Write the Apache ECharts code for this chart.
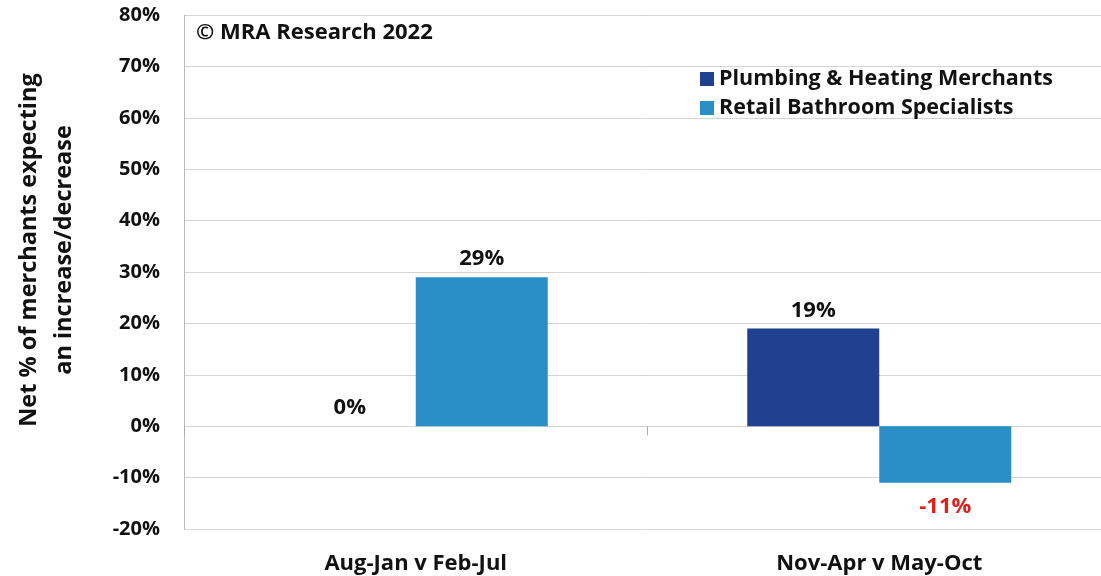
<!DOCTYPE html>
<html>
<head>
<meta charset="utf-8">
<script src="https://cdn.jsdelivr.net/npm/echarts@6/dist/echarts.min.js"></script>
<style>
  html, body { margin: 0; padding: 0; background: #fff; overflow: hidden; }
  /* plot area runs slightly past the right edge of the window */
  #chart { width: 1111px; height: 576px; }
</style>
</head>
<body>
<div id="chart"></div>
<script>
// Survey periods compared
const categories = ['Aug-Jan v Feb-Jul', 'Nov-Apr v May-Oct'];
// Net % of merchants expecting an increase/decrease
const plumbingHeating = [0, 19];
const retailBathroom = [29, -11];
const seriesNames = ['Plumbing & Heating Merchants', 'Retail Bathroom Specialists'];
const yMin = -20, yMax = 80, yStep = 10;

const FONT = '"Open Sans", sans-serif';
const DARK = '#1F4190';
const LIGHT = '#2A8FC6';

function labelled(values) {
  return values.map(v => v < 0
    ? { value: v, label: { position: 'bottom', color: '#E0201B', distance: 13 } }
    : { value: v });
}

const chart = echarts.init(document.getElementById('chart'), null, { renderer: 'canvas' });
chart.setOption({
  animation: false,
  backgroundColor: '#ffffff',
  textStyle: { fontFamily: FONT },
  grid: { left: 184, top: 15, right: 0, bottom: 47 },
  legend: {
    orient: 'vertical',
    left: 695,
    top: 63,
    itemWidth: 14,
    itemHeight: 14,
    itemGap: 7,
    icon: 'rect',
    data: seriesNames,
    textStyle: { fontFamily: FONT, fontWeight: 'bold', fontSize: 21.5, color: '#111' }
  },
  graphic: [
    {
      type: 'text', left: 196, top: 22,
      style: { text: '© MRA Research 2022', font: 'bold 22px ' + FONT, fill: '#111' }
    },
    {
      type: 'text', x: 47, y: 250, rotation: Math.PI / 2,
      style: {
        text: 'Net % of merchants expecting\nan increase/decrease',
        font: 'bold 23.5px ' + FONT, fill: '#111',
        align: 'center', verticalAlign: 'middle', lineHeight: 35
      }
    }
  ],
  xAxis: [
    {
      type: 'category',
      data: categories,
      position: 'bottom',
      axisLine: { show: false, onZero: false },
      axisTick: { show: false },
      axisLabel: { margin: 24, fontFamily: FONT, fontWeight: 'bold', fontSize: 22, color: '#111' }
    },
    {
      type: 'category',
      data: categories,
      position: 'bottom',
      axisLine: { show: false, onZero: true },
      axisTick: { show: true, inside: false, length: 9, lineStyle: { color: '#aaa' } },
      axisLabel: { show: false }
    }
  ],
  yAxis: {
    type: 'value',
    min: yMin, max: yMax, interval: yStep,
    axisLine: { show: true, lineStyle: { color: '#bbb' } },
    axisTick: { show: false },
    splitLine: { lineStyle: { color: '#d4d4d4' } },
    axisLabel: {
      formatter: '{value}%', margin: 24,
      fontFamily: FONT, fontWeight: 'bold', fontSize: 20, color: '#111'
    }
  },
  series: [
    {
      name: seriesNames[0], type: 'bar', data: labelled(plumbingHeating),
      barWidth: 132, barGap: '0%',
      itemStyle: { color: DARK },
      label: { show: true, position: 'top', distance: 7, formatter: '{c}%',
               fontFamily: FONT, fontWeight: 'bold', fontSize: 22, color: '#111' }
    },
    {
      name: seriesNames[1], type: 'bar', data: labelled(retailBathroom),
      barWidth: 132, barGap: '0%',
      itemStyle: { color: LIGHT },
      label: { show: true, position: 'top', distance: 7, formatter: '{c}%',
               fontFamily: FONT, fontWeight: 'bold', fontSize: 22, color: '#111' }
    }
  ]
});
</script>
</body>
</html>
